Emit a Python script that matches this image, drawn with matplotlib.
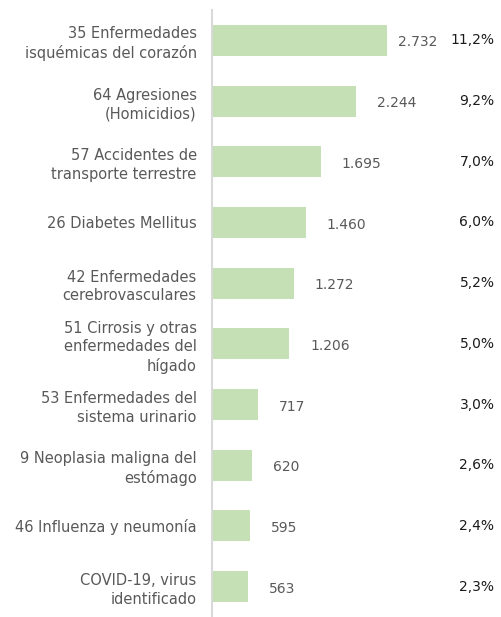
import matplotlib.pyplot as plt
import matplotlib.transforms as mtransforms

causas = [
    "35 Enfermedades\nisquémicas del corazón",
    "64 Agresiones\n(Homicidios)",
    "57 Accidentes de\ntransporte terrestre",
    "26 Diabetes Mellitus",
    "42 Enfermedades\ncerebrovasculares",
    "51 Cirrosis y otras\nenfermedades del\nhígado",
    "53 Enfermedades del\nsistema urinario",
    "9 Neoplasia maligna del\nestómago",
    "46 Influenza y neumonía",
    "COVID-19, virus\nidentificado",
]
defunciones = [2732, 2244, 1695, 1460, 1272, 1206, 717, 620, 595, 563]
porcentajes = ["11,2%", "9,2%", "7,0%", "6,0%", "5,2%", "5,0%", "3,0%", "2,6%", "2,4%", "2,3%"]

plt.rcParams["font.family"] = ["DejaVu Sans"]

fig = plt.figure(figsize=(5.02, 6.17), dpi=100)
ax = fig.add_axes([0.4223, 0.0, 0.5777, 0.9838])

pos = list(range(len(causas)))
ax.barh(pos, defunciones, height=0.51, color="#C5E0B4")
ax.set_ylim(len(causas) - 0.5, -0.5)
ax.set_xlim(0, 4525)

ax.set_yticks(pos)
ax.set_yticklabels(causas, fontsize=10.5, color="#595959", ha="right", linespacing=1.3)
ax.tick_params(axis="y", length=0, pad=11)
ax.set_xticks([])

for s in ["top", "right", "bottom"]:
    ax.spines[s].set_visible(False)
ax.spines["left"].set_color("#D9D9D9")
ax.spines["left"].set_linewidth(1.5)

# etiquetas de valor (la primera más pegada a la barra)
for i, v in enumerate(defunciones):
    etiqueta = f"{v:,}".replace(",", ".")
    dx = 8 if i == 0 else 15
    ax.annotate(etiqueta, (v, i), xytext=(dx, -1.5), textcoords="offset points",
                va="center", ha="left", fontsize=10, color="#595959")

# porcentajes a la derecha
trans = mtransforms.blended_transform_factory(fig.transFigure, ax.transData)
for i, p in enumerate(porcentajes):
    ax.text(0.985, i, p, transform=trans, ha="right", va="center",
            fontsize=10, color="#1A1A1A")

fig.savefig("out.png", dpi=100)
